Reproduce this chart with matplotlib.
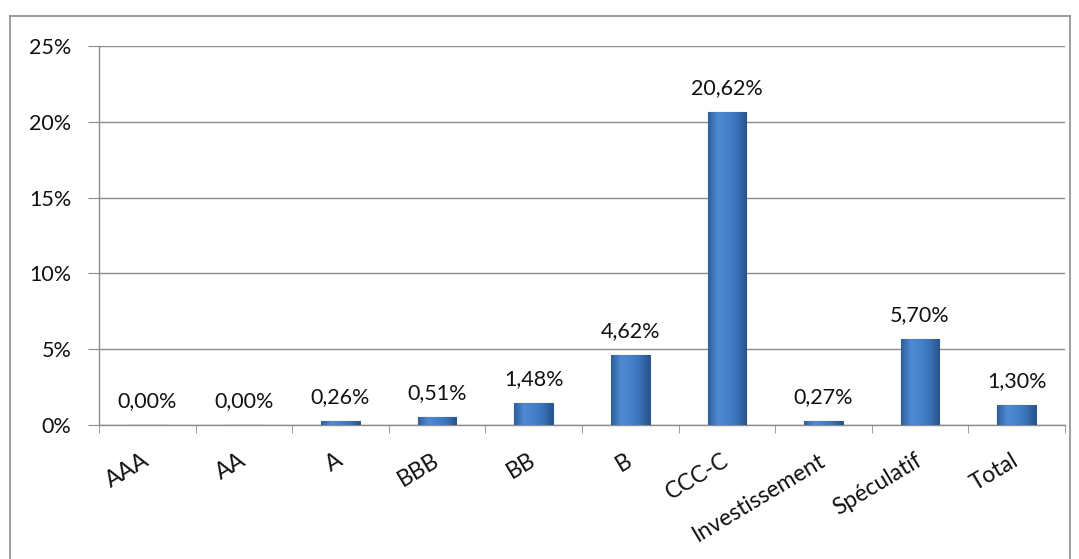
import numpy as np
import matplotlib.pyplot as plt
from matplotlib.colors import LinearSegmentedColormap
from matplotlib.lines import Line2D

# Taux de défaut par notation
categories = ["AAA", "AA", "A", "BBB", "BB", "B", "CCC-C",
              "Investissement", "Spéculatif", "Total"]
values = [0.00, 0.00, 0.26, 0.51, 1.48, 4.62, 20.62, 0.27, 5.70, 1.30]
labels = ["0,00%", "0,00%", "0,26%", "0,51%", "1,48%", "4,62%", "20,62%",
          "0,27%", "5,70%", "1,30%"]
yticks = [0, 5, 10, 15, 20, 25]

plt.rcParams["font.family"] = ["Lato", "DejaVu Sans"]

fig = plt.figure(figsize=(10.79, 5.59), dpi=100)
ax = fig.add_axes([0.0918, 0.2397, 0.8952, 0.678])

x = np.arange(len(categories))
w = 0.4
bars = ax.bar(x, values, width=w, color="#3C76BE", edgecolor="#2C5A92",
              linewidth=0.8, zorder=3)

# dégradé horizontal façon Excel
cmap = LinearSegmentedColormap.from_list(
    "b", ["#2F5F9C", "#4F8AD2", "#4682CC", "#3A72B8", "#27548C"])
grad = np.linspace(0, 1, 64).reshape(1, -1)
for b in bars:
    h = b.get_height()
    if h <= 0:
        continue
    im = ax.imshow(grad, cmap=cmap, aspect="auto", zorder=3.5,
                   extent=[b.get_x(), b.get_x() + b.get_width(), 0, h])
    im.set_clip_path(b)

for xi, v, lab in zip(x, values, labels):
    ax.annotate(lab, (xi, v), xytext=(0, 10), textcoords="offset points",
                ha="center", va="bottom", fontsize=15.5, color="#111111")

ax.set_xlim(-0.5, len(categories) - 0.5)
ax.set_ylim(0, 25)
ax.set_yticks(yticks)
ax.set_yticklabels([f"{t}%" for t in yticks], fontsize=15.5, color="#111111")
ax.grid(axis="y", color="#8c8c8c", linewidth=1, zorder=0)
ax.set_axisbelow(True)

ax.set_xticks(x)
ax.set_xticklabels(categories, rotation=31, ha="right", va="center",
                   rotation_mode="anchor", fontsize=16.5, color="#111111")
ax.set_xticks(np.arange(len(categories) + 1) - 0.5, minor=True)
ax.tick_params(axis="x", which="major", length=0, pad=24)
ax.tick_params(axis="x", which="minor", length=6, color="#8c8c8c", direction="out")
ax.tick_params(axis="y", length=8, color="#8c8c8c", direction="out", pad=12)

for s in ["top", "right"]:
    ax.spines[s].set_visible(False)
for s in ["left", "bottom"]:
    ax.spines[s].set_color("#8c8c8c")
    ax.spines[s].set_linewidth(1)

# cadre du graphique
fx0, fx1, fy1 = 10 / 1079, 1070 / 1079, 1 - 16 / 559
for xs, ys in [([fx0, fx0], [-0.1, fy1]), ([fx0, fx1], [fy1, fy1]),
               ([fx1, fx1], [-0.1, fy1])]:
    fig.add_artist(Line2D(xs, ys, transform=fig.transFigure,
                          color="#8c8c8c", linewidth=1.2))

plt.savefig("out.png", dpi=100)
